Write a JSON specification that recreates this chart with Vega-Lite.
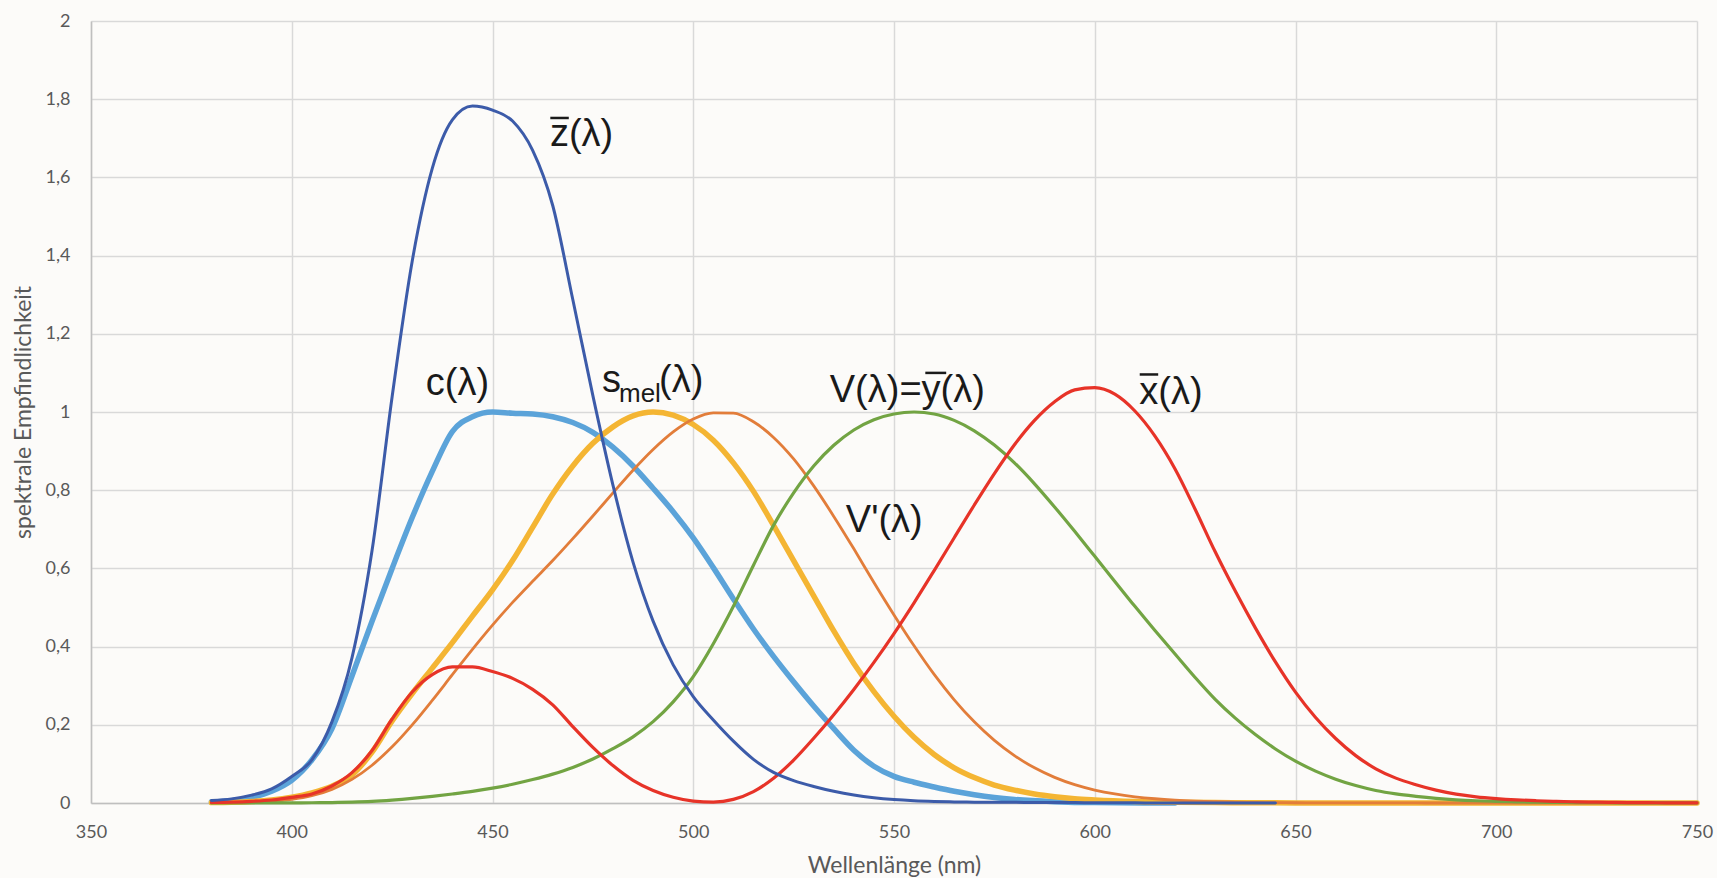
{
  "$schema": "https://vega.github.io/schema/vega-lite/v6.json",
  "width": 1606,
  "height": 782,
  "autosize": {"type": "none"},
  "padding": {"left": 91, "top": 21, "right": 20, "bottom": 75},
  "background": "#FCFBF9",
  "config": {
    "view": {"stroke": null},
    "axis": {
      "grid": true,
      "gridColor": "#D9D9D9",
      "gridWidth": 1.5,
      "domain": true,
      "domainColor": "#BFBFBF",
      "domainWidth": 1.5,
      "ticks": false,
      "labelFont": "Lato",
      "labelFontSize": 18,
      "labelColor": "#595959",
      "labelFlush": false,
      "labelOverlap": false,
      "labelBound": false,
      "titleFont": "Lato",
      "titleFontWeight": "normal",
      "titleColor": "#595959"
    }
  },
  "datasets": {
    "zbar": [
      {"nm":380,"v":0.00645},{"nm":385,"v":0.01055},{"nm":390,"v":0.02005},{"nm":395,"v":0.03621},{"nm":400,"v":0.06785},{"nm":405,"v":0.1102},{"nm":410,"v":0.2074},{"nm":415,"v":0.3713},{"nm":420,"v":0.6456},{"nm":425,"v":1.03905},{"nm":430,"v":1.3856},{"nm":435,"v":1.62296},{"nm":440,"v":1.74706},{"nm":445,"v":1.7826},{"nm":450,"v":1.77211},{"nm":455,"v":1.7441},{"nm":460,"v":1.6692},{"nm":465,"v":1.5281},{"nm":470,"v":1.28764},{"nm":475,"v":1.0419},{"nm":480,"v":0.81295},{"nm":485,"v":0.6162},{"nm":490,"v":0.46518},{"nm":495,"v":0.3533},{"nm":500,"v":0.272},{"nm":505,"v":0.2123},{"nm":510,"v":0.1582},{"nm":515,"v":0.1117},{"nm":520,"v":0.07825},{"nm":525,"v":0.05725},{"nm":530,"v":0.04216},{"nm":535,"v":0.02984},{"nm":540,"v":0.0203},{"nm":545,"v":0.0134},{"nm":550,"v":0.00875},{"nm":555,"v":0.00575},{"nm":560,"v":0.0039},{"nm":565,"v":0.00275},{"nm":570,"v":0.0021},{"nm":575,"v":0.0018},{"nm":580,"v":0.00165},{"nm":585,"v":0.0014},{"nm":590,"v":0.0011},{"nm":595,"v":0.001},{"nm":600,"v":0.0008},{"nm":605,"v":0.0006},{"nm":610,"v":0.00034},{"nm":615,"v":0.00024},{"nm":620,"v":0.00019},{"nm":625,"v":0.0001},{"nm":630,"v":0.00005},{"nm":635,"v":0.00003},{"nm":640,"v":0.00002},{"nm":645,"v":0.00001}
    ],
    "c": [
      {"nm":380,"v":0.003},{"nm":385,"v":0.006},{"nm":390,"v":0.014},{"nm":395,"v":0.03},{"nm":400,"v":0.058},{"nm":405,"v":0.11},{"nm":410,"v":0.19},{"nm":415,"v":0.325},{"nm":420,"v":0.465},{"nm":425,"v":0.6},{"nm":430,"v":0.73},{"nm":435,"v":0.848},{"nm":440,"v":0.95},{"nm":445,"v":0.988},{"nm":450,"v":1.0},{"nm":455,"v":0.997},{"nm":460,"v":0.995},{"nm":465,"v":0.988},{"nm":470,"v":0.973},{"nm":475,"v":0.948},{"nm":480,"v":0.91},{"nm":485,"v":0.862},{"nm":490,"v":0.805},{"nm":495,"v":0.745},{"nm":500,"v":0.678},{"nm":505,"v":0.602},{"nm":510,"v":0.522},{"nm":515,"v":0.445},{"nm":520,"v":0.375},{"nm":525,"v":0.31},{"nm":530,"v":0.248},{"nm":535,"v":0.19},{"nm":540,"v":0.135},{"nm":545,"v":0.094},{"nm":550,"v":0.068},{"nm":555,"v":0.053},{"nm":560,"v":0.041},{"nm":565,"v":0.03},{"nm":570,"v":0.021},{"nm":575,"v":0.014},{"nm":580,"v":0.009},{"nm":590,"v":0.0035},{"nm":600,"v":0.001},{"nm":620,"v":0.0}
    ],
    "smel": [
      {"nm":380,"v":0.001},{"nm":385,"v":0.002},{"nm":390,"v":0.004},{"nm":395,"v":0.008},{"nm":400,"v":0.015},{"nm":405,"v":0.026},{"nm":410,"v":0.043},{"nm":415,"v":0.072},{"nm":420,"v":0.13},{"nm":425,"v":0.21},{"nm":430,"v":0.28},{"nm":435,"v":0.345},{"nm":440,"v":0.41},{"nm":445,"v":0.478},{"nm":450,"v":0.545},{"nm":455,"v":0.62},{"nm":460,"v":0.705},{"nm":465,"v":0.79},{"nm":470,"v":0.862},{"nm":475,"v":0.92},{"nm":480,"v":0.962},{"nm":485,"v":0.99},{"nm":490,"v":1.0},{"nm":495,"v":0.992},{"nm":500,"v":0.968},{"nm":505,"v":0.928},{"nm":510,"v":0.87},{"nm":515,"v":0.797},{"nm":520,"v":0.71},{"nm":525,"v":0.62},{"nm":530,"v":0.53},{"nm":535,"v":0.44},{"nm":540,"v":0.357},{"nm":545,"v":0.285},{"nm":550,"v":0.222},{"nm":555,"v":0.168},{"nm":560,"v":0.124},{"nm":565,"v":0.09},{"nm":570,"v":0.065},{"nm":575,"v":0.046},{"nm":580,"v":0.033},{"nm":585,"v":0.023},{"nm":590,"v":0.016},{"nm":595,"v":0.011},{"nm":600,"v":0.008},{"nm":610,"v":0.004},{"nm":620,"v":0.002},{"nm":630,"v":0.001},{"nm":640,"v":0.0006},{"nm":650,"v":0.0003},{"nm":675,"v":0.0001},{"nm":700,"v":0.0},{"nm":750,"v":0.0}
    ],
    "vprime": [
      {"nm":380,"v":0.000589},{"nm":385,"v":0.001108},{"nm":390,"v":0.002209},{"nm":395,"v":0.00453},{"nm":400,"v":0.00929},{"nm":405,"v":0.01852},{"nm":410,"v":0.03484},{"nm":415,"v":0.0604},{"nm":420,"v":0.0966},{"nm":425,"v":0.1436},{"nm":430,"v":0.1998},{"nm":435,"v":0.2625},{"nm":440,"v":0.3281},{"nm":445,"v":0.3931},{"nm":450,"v":0.455},{"nm":455,"v":0.513},{"nm":460,"v":0.567},{"nm":465,"v":0.62},{"nm":470,"v":0.676},{"nm":475,"v":0.734},{"nm":480,"v":0.793},{"nm":485,"v":0.851},{"nm":490,"v":0.904},{"nm":495,"v":0.949},{"nm":500,"v":0.982},{"nm":505,"v":0.998},{"nm":510,"v":0.997},{"nm":515,"v":0.975},{"nm":520,"v":0.935},{"nm":525,"v":0.88},{"nm":530,"v":0.811},{"nm":535,"v":0.733},{"nm":540,"v":0.65},{"nm":545,"v":0.564},{"nm":550,"v":0.481},{"nm":555,"v":0.402},{"nm":560,"v":0.3288},{"nm":565,"v":0.2639},{"nm":570,"v":0.2076},{"nm":575,"v":0.1602},{"nm":580,"v":0.1212},{"nm":585,"v":0.0899},{"nm":590,"v":0.0655},{"nm":595,"v":0.0469},{"nm":600,"v":0.03315},{"nm":605,"v":0.02312},{"nm":610,"v":0.01593},{"nm":615,"v":0.01088},{"nm":620,"v":0.00737},{"nm":625,"v":0.00497},{"nm":630,"v":0.003335},{"nm":635,"v":0.002235},{"nm":640,"v":0.001497},{"nm":645,"v":0.001005},{"nm":650,"v":0.000677},{"nm":655,"v":0.000459},{"nm":660,"v":0.000313},{"nm":665,"v":0.000215},{"nm":670,"v":0.000148},{"nm":675,"v":0.000103},{"nm":680,"v":0.000072},{"nm":685,"v":0.00005},{"nm":690,"v":0.000035},{"nm":695,"v":0.000025},{"nm":700,"v":0.000018},{"nm":710,"v":0.000009},{"nm":720,"v":0.000005},{"nm":730,"v":0.000003},{"nm":740,"v":0.000001},{"nm":750,"v":0.000001}
    ],
    "ybar": [
      {"nm":380,"v":0.000039},{"nm":385,"v":0.000064},{"nm":390,"v":0.00012},{"nm":395,"v":0.000217},{"nm":400,"v":0.000396},{"nm":405,"v":0.00064},{"nm":410,"v":0.00121},{"nm":415,"v":0.00218},{"nm":420,"v":0.004},{"nm":425,"v":0.0073},{"nm":430,"v":0.0116},{"nm":435,"v":0.01684},{"nm":440,"v":0.023},{"nm":445,"v":0.0298},{"nm":450,"v":0.038},{"nm":455,"v":0.048},{"nm":460,"v":0.06},{"nm":465,"v":0.0739},{"nm":470,"v":0.09098},{"nm":475,"v":0.1126},{"nm":480,"v":0.13902},{"nm":485,"v":0.1693},{"nm":490,"v":0.20802},{"nm":495,"v":0.2586},{"nm":500,"v":0.323},{"nm":505,"v":0.4073},{"nm":510,"v":0.503},{"nm":515,"v":0.6082},{"nm":520,"v":0.71},{"nm":525,"v":0.7932},{"nm":530,"v":0.862},{"nm":535,"v":0.91485},{"nm":540,"v":0.954},{"nm":545,"v":0.9803},{"nm":550,"v":0.99495},{"nm":555,"v":1.0},{"nm":560,"v":0.995},{"nm":565,"v":0.9786},{"nm":570,"v":0.952},{"nm":575,"v":0.9154},{"nm":580,"v":0.87},{"nm":585,"v":0.8163},{"nm":590,"v":0.757},{"nm":595,"v":0.6949},{"nm":600,"v":0.631},{"nm":605,"v":0.5668},{"nm":610,"v":0.503},{"nm":615,"v":0.4412},{"nm":620,"v":0.381},{"nm":625,"v":0.321},{"nm":630,"v":0.265},{"nm":635,"v":0.217},{"nm":640,"v":0.175},{"nm":645,"v":0.1382},{"nm":650,"v":0.107},{"nm":655,"v":0.0816},{"nm":660,"v":0.061},{"nm":665,"v":0.04458},{"nm":670,"v":0.032},{"nm":675,"v":0.0232},{"nm":680,"v":0.017},{"nm":685,"v":0.01192},{"nm":690,"v":0.00821},{"nm":695,"v":0.005723},{"nm":700,"v":0.004102},{"nm":705,"v":0.002929},{"nm":710,"v":0.002091},{"nm":715,"v":0.001484},{"nm":720,"v":0.001047},{"nm":725,"v":0.00074},{"nm":730,"v":0.00052},{"nm":735,"v":0.000361},{"nm":740,"v":0.000249},{"nm":745,"v":0.000172},{"nm":750,"v":0.00012}
    ],
    "xbar": [
      {"nm":380,"v":0.001368},{"nm":385,"v":0.002236},{"nm":390,"v":0.004243},{"nm":395,"v":0.00765},{"nm":400,"v":0.01431},{"nm":405,"v":0.02319},{"nm":410,"v":0.04351},{"nm":415,"v":0.07763},{"nm":420,"v":0.13438},{"nm":425,"v":0.21477},{"nm":430,"v":0.2839},{"nm":435,"v":0.3285},{"nm":440,"v":0.34828},{"nm":445,"v":0.34806},{"nm":450,"v":0.3362},{"nm":455,"v":0.3187},{"nm":460,"v":0.2908},{"nm":465,"v":0.2511},{"nm":470,"v":0.19536},{"nm":475,"v":0.1421},{"nm":480,"v":0.09564},{"nm":485,"v":0.05795},{"nm":490,"v":0.03201},{"nm":495,"v":0.0147},{"nm":500,"v":0.0049},{"nm":505,"v":0.0024},{"nm":510,"v":0.0093},{"nm":515,"v":0.0291},{"nm":520,"v":0.06327},{"nm":525,"v":0.1096},{"nm":530,"v":0.1655},{"nm":535,"v":0.22575},{"nm":540,"v":0.2904},{"nm":545,"v":0.3597},{"nm":550,"v":0.43345},{"nm":555,"v":0.51205},{"nm":560,"v":0.5945},{"nm":565,"v":0.6784},{"nm":570,"v":0.7621},{"nm":575,"v":0.8425},{"nm":580,"v":0.9163},{"nm":585,"v":0.9786},{"nm":590,"v":1.0263},{"nm":595,"v":1.0567},{"nm":600,"v":1.0622},{"nm":605,"v":1.0456},{"nm":610,"v":1.0026},{"nm":615,"v":0.9384},{"nm":620,"v":0.85445},{"nm":625,"v":0.7514},{"nm":630,"v":0.6424},{"nm":635,"v":0.5419},{"nm":640,"v":0.4479},{"nm":645,"v":0.3608},{"nm":650,"v":0.2835},{"nm":655,"v":0.2187},{"nm":660,"v":0.1649},{"nm":665,"v":0.1212},{"nm":670,"v":0.0874},{"nm":675,"v":0.0636},{"nm":680,"v":0.04677},{"nm":685,"v":0.0329},{"nm":690,"v":0.0227},{"nm":695,"v":0.01584},{"nm":700,"v":0.011359},{"nm":705,"v":0.008111},{"nm":710,"v":0.00579},{"nm":715,"v":0.004109},{"nm":720,"v":0.002899},{"nm":725,"v":0.002049},{"nm":730,"v":0.00144},{"nm":735,"v":0.001},{"nm":740,"v":0.00069},{"nm":745,"v":0.000476},{"nm":750,"v":0.000332}
    ],
    "labels": [
      {"nm":464.3,"v":1.68,"t":"z(λ)"},
      {"nm":433.4,"v":1.043,"t":"c(λ)"},
      {"nm":477.3,"v":1.05,"t":"s"},
      {"nm":491.5,"v":1.05,"t":"(λ)"},
      {"nm":534.0,"v":1.026,"t":"V(λ)=y(λ)"},
      {"nm":611.1,"v":1.021,"t":"x(λ)"},
      {"nm":538.0,"v":0.693,"t":"V'(λ)"}
    ],
    "bars": [
      {"nm":464.4,"nm2":469.0,"v":1.752},
      {"nm":557.8,"nm2":563.0,"v":1.1},
      {"nm":611.2,"nm2":615.8,"v":1.096}
    ],
    "sublabels": [
      {"nm":481.5,"v":1.025,"t":"mel"}
    ]
  },
  "encoding": {
    "x": {
      "field": "nm",
      "type": "quantitative",
      "scale": {"domain": [350, 750], "nice": false, "zero": false},
      "axis": {
        "values": [350, 400, 450, 500, 550, 600, 650, 700, 750],
        "labelPadding": 20,
        "title": "Wellenlänge (nm)",
        "titleFontSize": 23,
        "titlePadding": 13
      }
    },
    "y": {
      "field": "v",
      "type": "quantitative",
      "scale": {"domain": [0, 2], "nice": false},
      "axis": {
        "values": [0, 0.2, 0.4, 0.6, 0.8, 1, 1.2, 1.4, 1.6, 1.8, 2],
        "labelExpr": "replace(format(datum.value, '~g'), '.', ',')",
        "labelPadding": 21,
        "title": "spektrale Empfindlichkeit",
        "titleFontSize": 23,
        "titlePadding": 10
      }
    }
  },
  "layer": [
    {"data": {"name": "c"}, "mark": {"type": "line", "interpolate": "monotone", "color": "#5BA3D9", "strokeWidth": 5.5, "strokeCap": "round", "strokeJoin": "round"}},
    {"data": {"name": "smel"}, "mark": {"type": "line", "interpolate": "monotone", "color": "#F4B533", "strokeWidth": 5.5, "strokeCap": "round", "strokeJoin": "round"}},
    {"data": {"name": "vprime"}, "mark": {"type": "line", "interpolate": "monotone", "color": "#E27D3A", "strokeWidth": 2.8, "strokeCap": "round", "strokeJoin": "round"}},
    {"data": {"name": "ybar"}, "mark": {"type": "line", "interpolate": "monotone", "color": "#72A443", "strokeWidth": 3.2, "strokeCap": "round", "strokeJoin": "round"}},
    {"data": {"name": "xbar"}, "mark": {"type": "line", "interpolate": "monotone", "color": "#E73328", "strokeWidth": 3.2, "strokeCap": "round", "strokeJoin": "round"}},
    {"data": {"name": "zbar"}, "mark": {"type": "line", "interpolate": "monotone", "color": "#3C5BA9", "strokeWidth": 3, "strokeCap": "round", "strokeJoin": "round"}},
    {"data": {"name": "labels"}, "mark": {"type": "text", "align": "left", "baseline": "alphabetic", "font": "Liberation Sans", "fontSize": 38, "color": "#1A1A1A"}, "encoding": {"text": {"field": "t"}}},
    {"data": {"name": "bars"}, "mark": {"type": "rule", "color": "#1A1A1A", "strokeWidth": 2.5}, "encoding": {"x2": {"field": "nm2"}}},
    {"data": {"name": "sublabels"}, "mark": {"type": "text", "align": "left", "baseline": "alphabetic", "font": "Liberation Sans", "fontSize": 26, "color": "#1A1A1A"}, "encoding": {"text": {"field": "t"}}}
  ]
}
